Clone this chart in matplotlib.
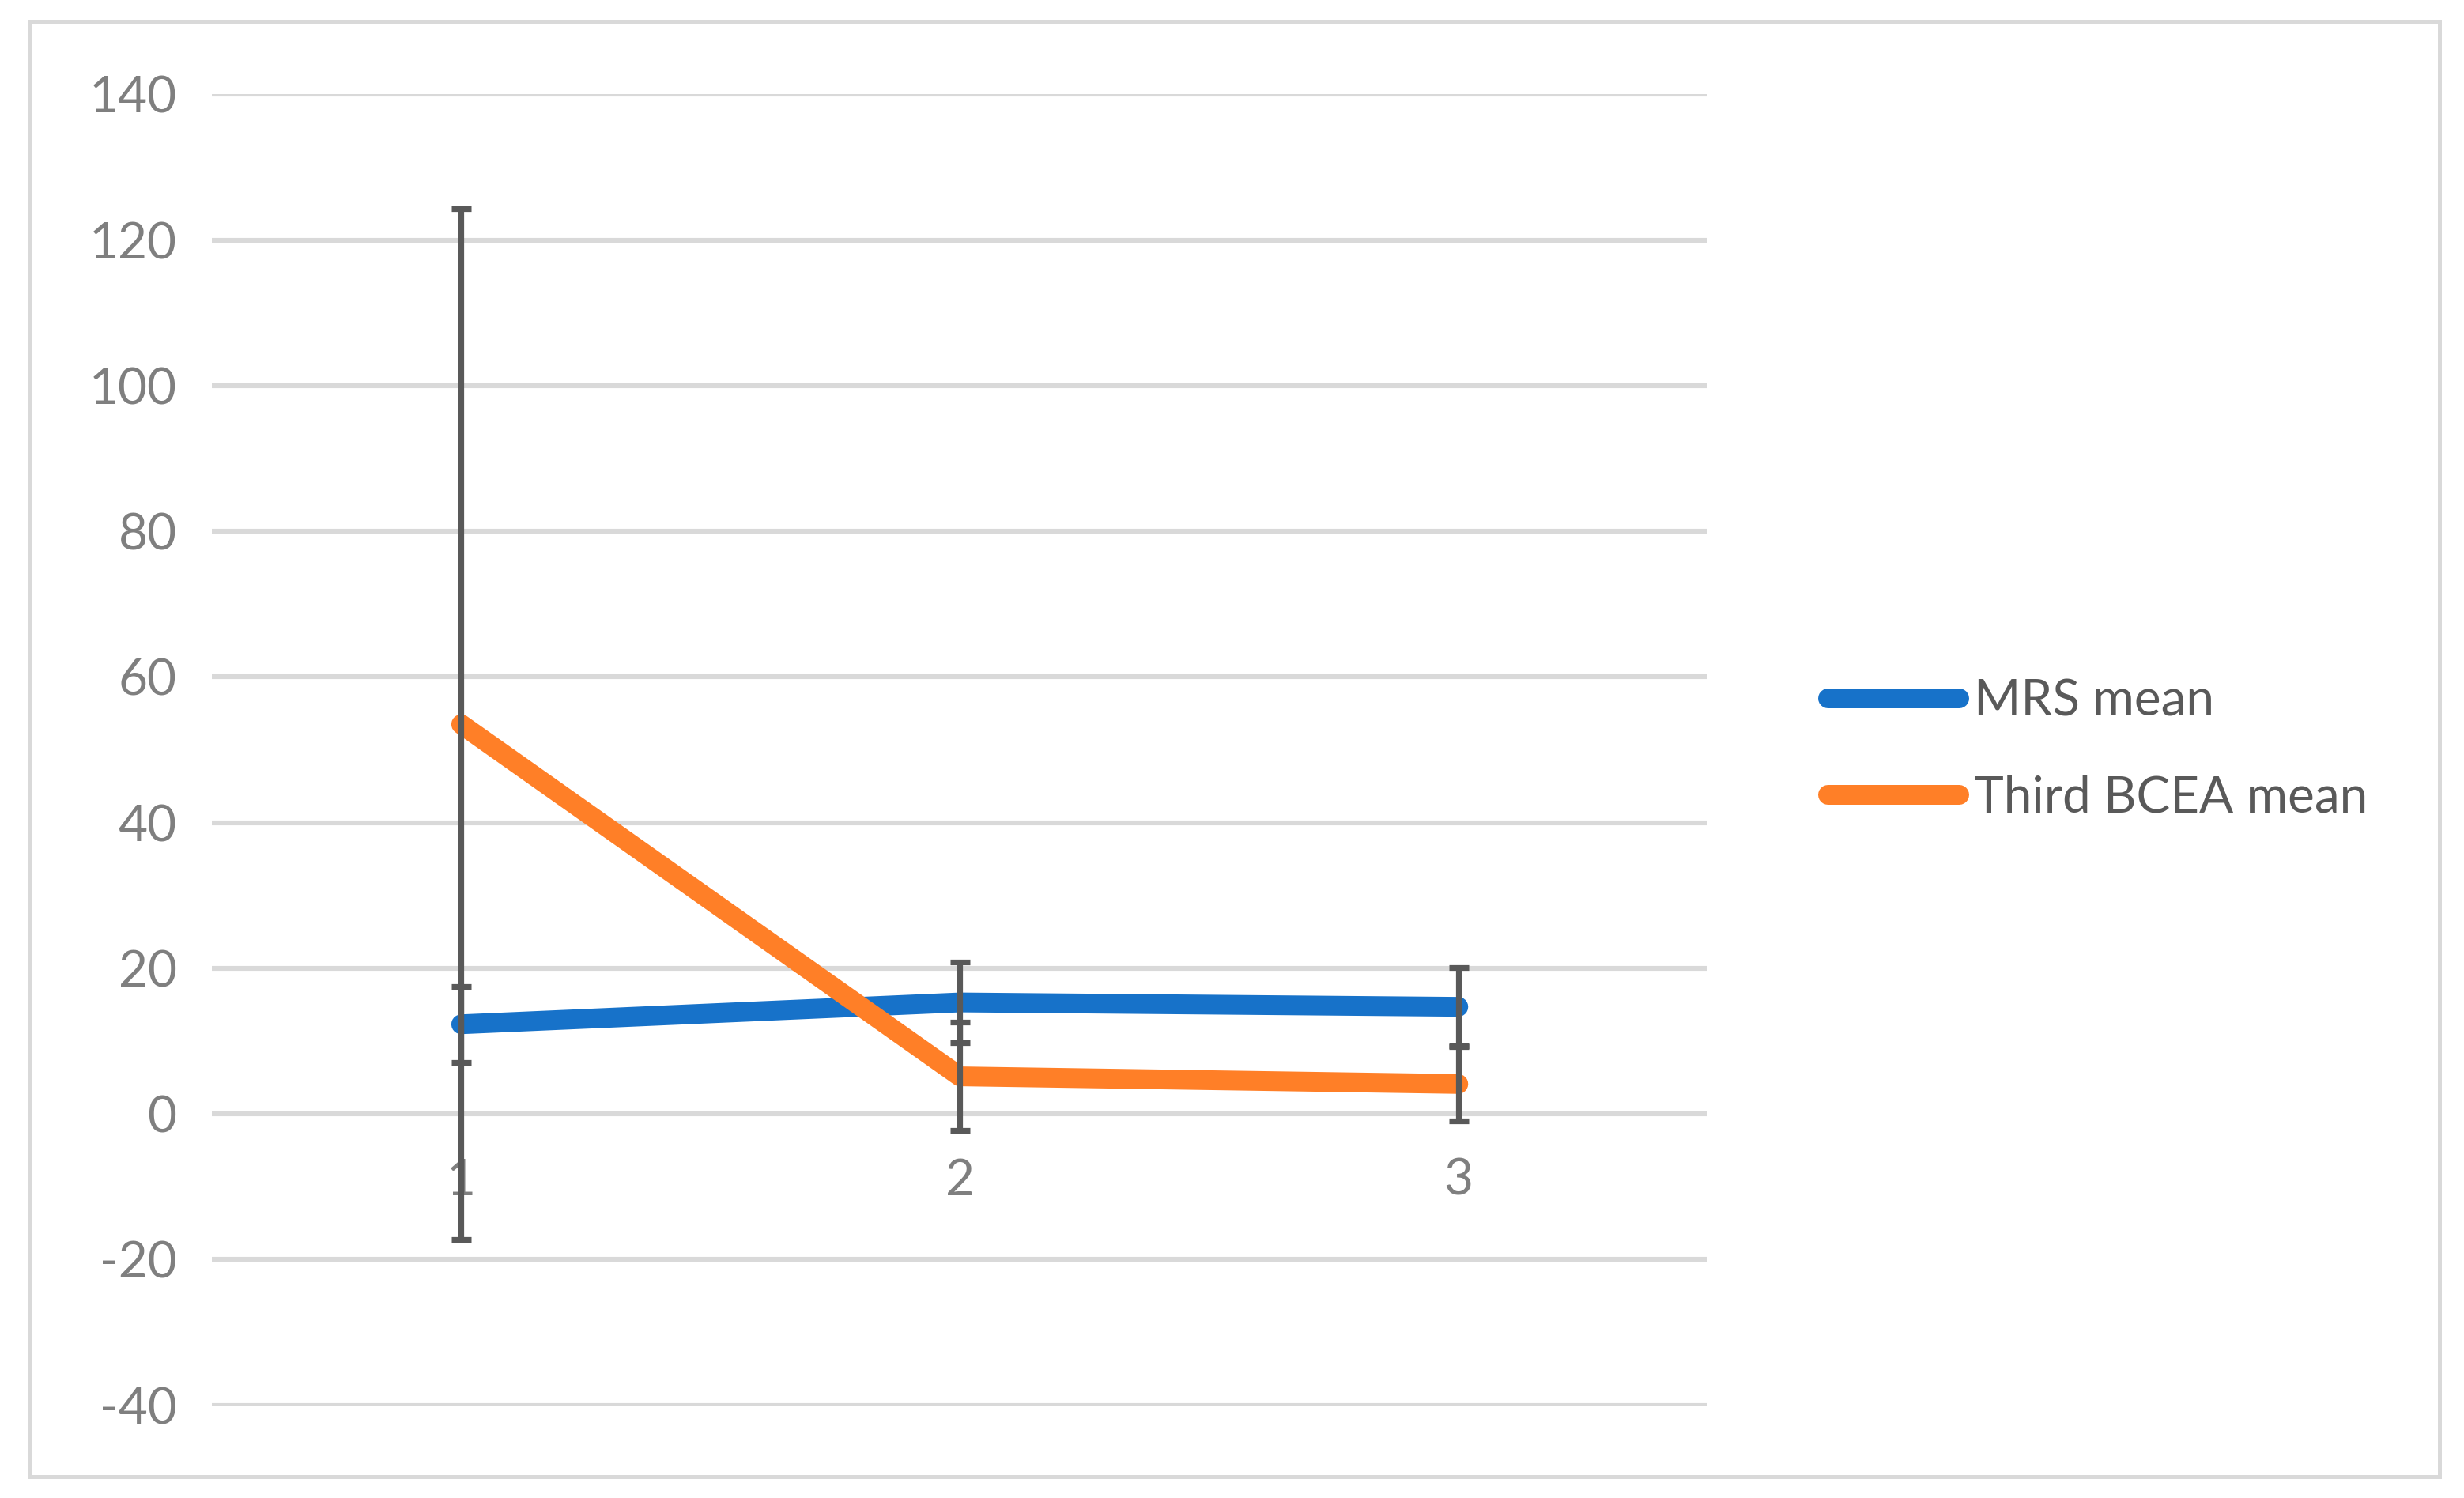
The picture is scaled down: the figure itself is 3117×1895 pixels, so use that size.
import matplotlib
matplotlib.use("Agg")
import matplotlib.pyplot as plt
from matplotlib.patches import Rectangle

plt.rcParams['font.family'] = ['Lato', 'DejaVu Sans']
plt.rcParams['axes.unicode_minus'] = False

categories = [1, 2, 3]
mrs_mean = [12.3, 15.3, 14.7]
mrs_err = [5.2, 5.55, 5.4]
bcea_mean = [53.5, 5.15, 4.1]
bcea_err = [70.8, 7.45, 5.1]
yticks = list(range(-40, 141, 20))

fig = plt.figure(figsize=(15.585, 9.475), dpi=200)
fig.patches.append(Rectangle((0.012, 0.014), 0.978, 0.972, transform=fig.transFigure,
                             fill=False, edgecolor="#d9d9d9", linewidth=1.8))
ax = fig.add_axes([0.086, 0.062, 0.607, 0.875])
ax.set_xlim(0.5, 3.5)
ax.set_ylim(-40, 140)
ax.set_yticks(yticks)
ax.set_xticks(categories)
ax.set_xticklabels([str(c) for c in categories])
ax.grid(axis="y", color="#d9d9d9", linewidth=2.2)
ax.set_axisbelow(True)
for s in ax.spines.values():
    s.set_visible(False)
ax.spines['bottom'].set_position(('data', 0))
ax.tick_params(length=0, labelsize=23, labelcolor="#7f7f7f", pad=16)
ax.tick_params(axis='x', pad=20)

ax.plot(categories, mrs_mean, color="#1772c9", linewidth=9, solid_capstyle="round", label="MRS mean", zorder=3)
ax.plot(categories, bcea_mean, color="#ff7f27", linewidth=9, solid_capstyle="round", label="Third BCEA mean", zorder=3)
ax.errorbar(categories, mrs_mean, yerr=mrs_err, fmt="none", ecolor="#595959", elinewidth=2.6, capsize=4.5, capthick=2.6, zorder=4)
ax.errorbar(categories, bcea_mean, yerr=bcea_err, fmt="none", ecolor="#595959", elinewidth=2.6, capsize=4.5, capthick=2.6, zorder=4)

leg = ax.legend(loc="center left", bbox_to_anchor=(1.05, 0.5), frameon=False, fontsize=23,
                labelcolor="#595959", handlelength=2.6, handletextpad=0.3, labelspacing=1.0)
plt.savefig("out.png")
